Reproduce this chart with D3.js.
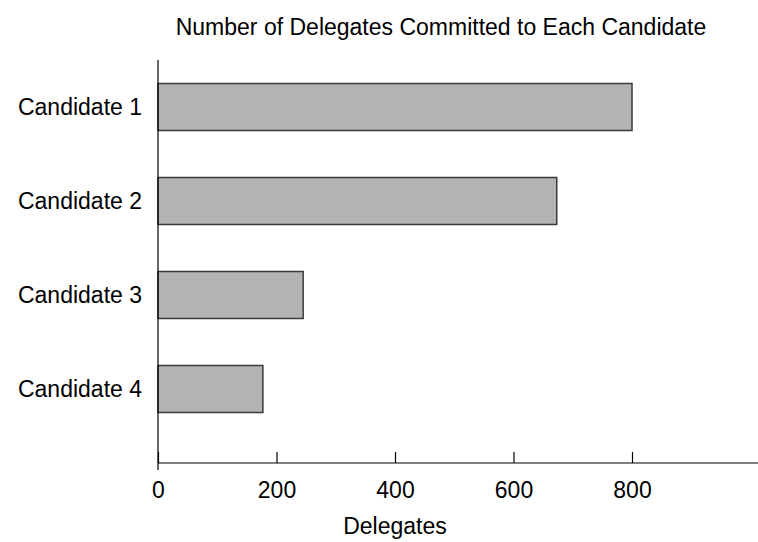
<!DOCTYPE html>
<html><head><meta charset="utf-8">
<script src="https://cdn.jsdelivr.net/npm/d3@7"></script>
<style>body{margin:0;background:#fff}svg{display:block}text{font-family:"Liberation Sans",Arial,sans-serif;fill:#000}</style>
</head><body><svg id="c" width="758" height="542"></svg>
<script>
const categories = ["Candidate 1","Candidate 2","Candidate 3","Candidate 4"];
const delegates = [800, 673, 245, 177];
const xTicks = [0, 200, 400, 600, 800];
const titleText = "Number of Delegates Committed to Each Candidate";
const xLabel = "Delegates";

const svg = d3.select("#c");
const x = d3.scaleLinear().domain([0, 1000]).range([158, 750.5]);
const y = d3.scaleBand().domain(categories).range([60, 436]).paddingInner(0.5).paddingOuter(0.25);

svg.append("g").selectAll("rect").data(categories).join("rect")
  .attr("x", x(0)).attr("y", d => y(d))
  .attr("width", (d,i) => x(delegates[i]) - x(0))
  .attr("height", y.bandwidth())
  .attr("fill", "#b3b3b3").attr("stroke", "#3a3a3a").attr("stroke-width", 1.5);

const xAxis = svg.append("g").attr("transform", "translate(0,463)")
  .call(d3.axisBottom(x).tickValues(xTicks).tickSize(-11).tickPadding(19).tickFormat(d3.format("d")));
xAxis.select(".domain").remove();
xAxis.selectAll("line").attr("stroke", "#000").attr("stroke-width", 1.2);
xAxis.selectAll("text").style("font-size", "23px").attr("font-family", null);
svg.append("line").attr("x1", x(0)).attr("x2", 758).attr("y1", 463).attr("y2", 463).attr("stroke", "#000").attr("stroke-width", 1.2);
svg.append("line").attr("x1", x(0)).attr("x2", x(0)).attr("y1", 60).attr("y2", 470).attr("stroke", "#000").attr("stroke-width", 1.2);

svg.append("g").selectAll("text").data(categories).join("text")
  .attr("x", 142).attr("y", d => y(d) + y.bandwidth()/2).attr("dy", "0.35em")
  .attr("text-anchor", "end").style("font-size", "23px").text(d => d);

svg.append("text").attr("x", 441).attr("y", 35).attr("text-anchor", "middle").style("font-size", "23px").text(titleText);
svg.append("text").attr("x", 395).attr("y", 534).attr("text-anchor", "middle").style("font-size", "23px").text(xLabel);
</script></body></html>
